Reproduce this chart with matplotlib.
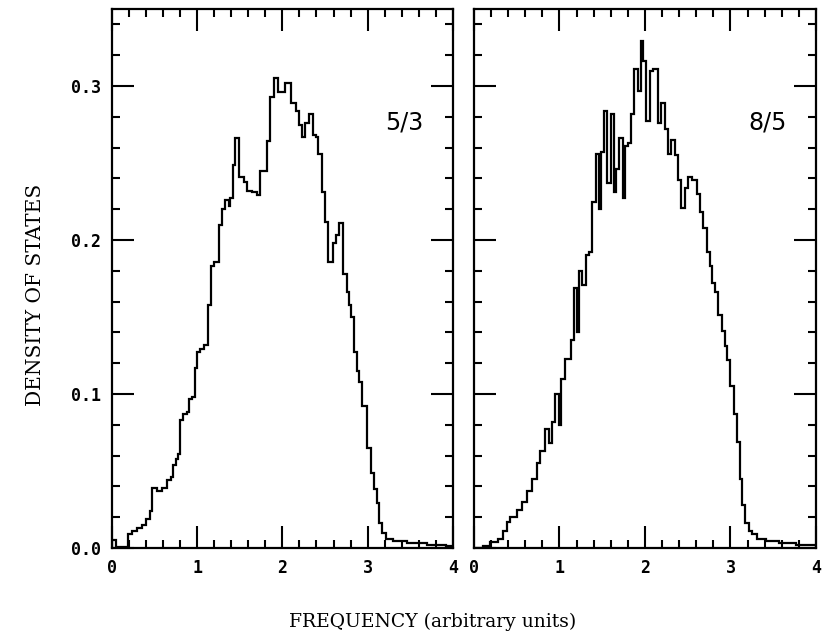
import matplotlib
matplotlib.use("Agg")
import matplotlib.pyplot as plt
from matplotlib.ticker import MultipleLocator

# left panel (5/3): bin left edges and heights
edges_53 = [0.0, 0.047, 0.195, 0.241, 0.30, 0.358, 0.40, 0.444, 0.475, 0.526,
            0.592, 0.65, 0.69, 0.72, 0.748, 0.779, 0.806, 0.837, 0.884, 0.911,
            0.943, 0.974, 1.0, 1.032, 1.087, 1.126, 1.165, 1.204, 1.254, 1.293,
            1.332, 1.371, 1.39, 1.418, 1.449, 1.488, 1.546, 1.585, 1.644, 1.702,
            1.741, 1.819, 1.85, 1.897, 1.947, 2.033, 2.1, 2.16, 2.2, 2.228,
            2.267, 2.317, 2.356, 2.395, 2.423, 2.462, 2.5, 2.54, 2.59, 2.63,
            2.668, 2.715, 2.754, 2.785, 2.81, 2.84, 2.87, 2.9, 2.93, 2.99,
            3.034, 3.073, 3.104, 3.135, 3.163, 3.22, 3.3, 3.455, 3.69, 3.92, 4.0]
dos_53 = [0.0055, 0.0008, 0.009, 0.011, 0.013, 0.015, 0.019, 0.024, 0.039, 0.037,
          0.039, 0.044, 0.046, 0.054, 0.058, 0.061, 0.083, 0.087, 0.088, 0.097,
          0.098, 0.117, 0.127, 0.129, 0.132, 0.158, 0.183, 0.186, 0.21, 0.22,
          0.226, 0.222, 0.227, 0.249, 0.266, 0.241, 0.238, 0.232, 0.231, 0.229,
          0.245, 0.264, 0.293, 0.305, 0.296, 0.302, 0.289, 0.284, 0.275, 0.267,
          0.276, 0.282, 0.268, 0.267, 0.256, 0.231, 0.212, 0.186, 0.198, 0.203,
          0.211, 0.178, 0.166, 0.158, 0.150, 0.127, 0.115, 0.108, 0.092, 0.065,
          0.049, 0.038, 0.029, 0.016, 0.010, 0.006, 0.0045, 0.003, 0.002, 0.001]

# right panel (8/5)
edges_85 = [0.0, 0.106, 0.185, 0.283, 0.342, 0.382, 0.42, 0.5, 0.558, 0.617,
            0.676, 0.735, 0.775, 0.834, 0.873, 0.912, 0.952, 0.991, 1.019, 1.07,
            1.129, 1.168, 1.207, 1.227, 1.266, 1.306, 1.345, 1.384, 1.424, 1.463,
            1.483, 1.522, 1.561, 1.6, 1.632, 1.66, 1.699, 1.738, 1.766, 1.797,
            1.837, 1.876, 1.915, 1.955, 1.974, 2.014, 2.053, 2.092, 2.151, 2.191,
            2.23, 2.269, 2.309, 2.348, 2.387, 2.427, 2.466, 2.505, 2.545, 2.604,
            2.643, 2.682, 2.722, 2.761, 2.789, 2.82, 2.859, 2.899, 2.93, 2.958,
            2.997, 3.036, 3.076, 3.107, 3.135, 3.174, 3.213, 3.253, 3.312, 3.41,
            3.567, 3.764, 4.0]
dos_85 = [0.0, 0.001, 0.004, 0.006, 0.011, 0.017, 0.020, 0.025, 0.030, 0.037,
          0.045, 0.055, 0.063, 0.077, 0.068, 0.082, 0.100, 0.080, 0.110, 0.123,
          0.135, 0.169, 0.140, 0.180, 0.171, 0.190, 0.192, 0.225, 0.256, 0.220,
          0.257, 0.284, 0.237, 0.282, 0.231, 0.246, 0.266, 0.227, 0.261, 0.263,
          0.282, 0.311, 0.297, 0.329, 0.316, 0.277, 0.310, 0.311, 0.276, 0.289,
          0.272, 0.256, 0.265, 0.255, 0.239, 0.221, 0.234, 0.241, 0.239, 0.230,
          0.218, 0.208, 0.192, 0.183, 0.172, 0.166, 0.151, 0.141, 0.131, 0.122,
          0.105, 0.087, 0.069, 0.045, 0.028, 0.016, 0.011, 0.009, 0.006, 0.0045,
          0.003, 0.002]

panels = [(edges_53, dos_53, "5/3"), (edges_85, dos_85, "8/5")]
xticks = [0, 1, 2, 3, 4]
yticks = [0.0, 0.1, 0.2, 0.3]

fig = plt.figure(figsize=(8.22, 6.32), dpi=100)
ax1 = fig.add_axes([0.1359, 0.1329, 0.4152, 0.8528])
ax2 = fig.add_axes([0.5766, 0.1329, 0.4161, 0.8528])

tickfont = {"family": "DejaVu Sans Mono", "weight": "bold", "size": 12}

for ax, (edges, vals, name) in zip([ax1, ax2], panels):
    ax.stairs(vals, edges, color="black", linewidth=1.6)
    ax.set_xlim(0, 4)
    ax.set_ylim(0, 0.35)
    ax.set_xticks(xticks)
    ax.set_yticks(yticks)
    ax.xaxis.set_minor_locator(MultipleLocator(0.2))
    ax.yaxis.set_minor_locator(MultipleLocator(0.02))
    ax.tick_params(which="both", direction="in", top=True, right=True, width=1.5)
    ax.tick_params(which="major", length=16, pad=8)
    ax.tick_params(which="minor", length=6)
    for s in ax.spines.values():
        s.set_linewidth(1.6)
    ax.set_xticklabels([str(t) for t in xticks], fontdict=tickfont)
    ax.text(3.21, 0.276, name, fontsize=17, family="DejaVu Sans", va="center")

ax1.set_yticklabels(["%.1f" % t for t in yticks], fontdict=tickfont)
ax2.set_yticklabels([])

fig.text(0.043, 0.533, "DENSITY OF STATES", rotation=90, ha="center", va="center",
         family="DejaVu Serif", fontsize=14.5)
fig.text(0.526, 0.016, "FREQUENCY (arbitrary units)", ha="center", va="center",
         family="DejaVu Serif", fontsize=13.5)

fig.savefig("out.png", dpi=100)
